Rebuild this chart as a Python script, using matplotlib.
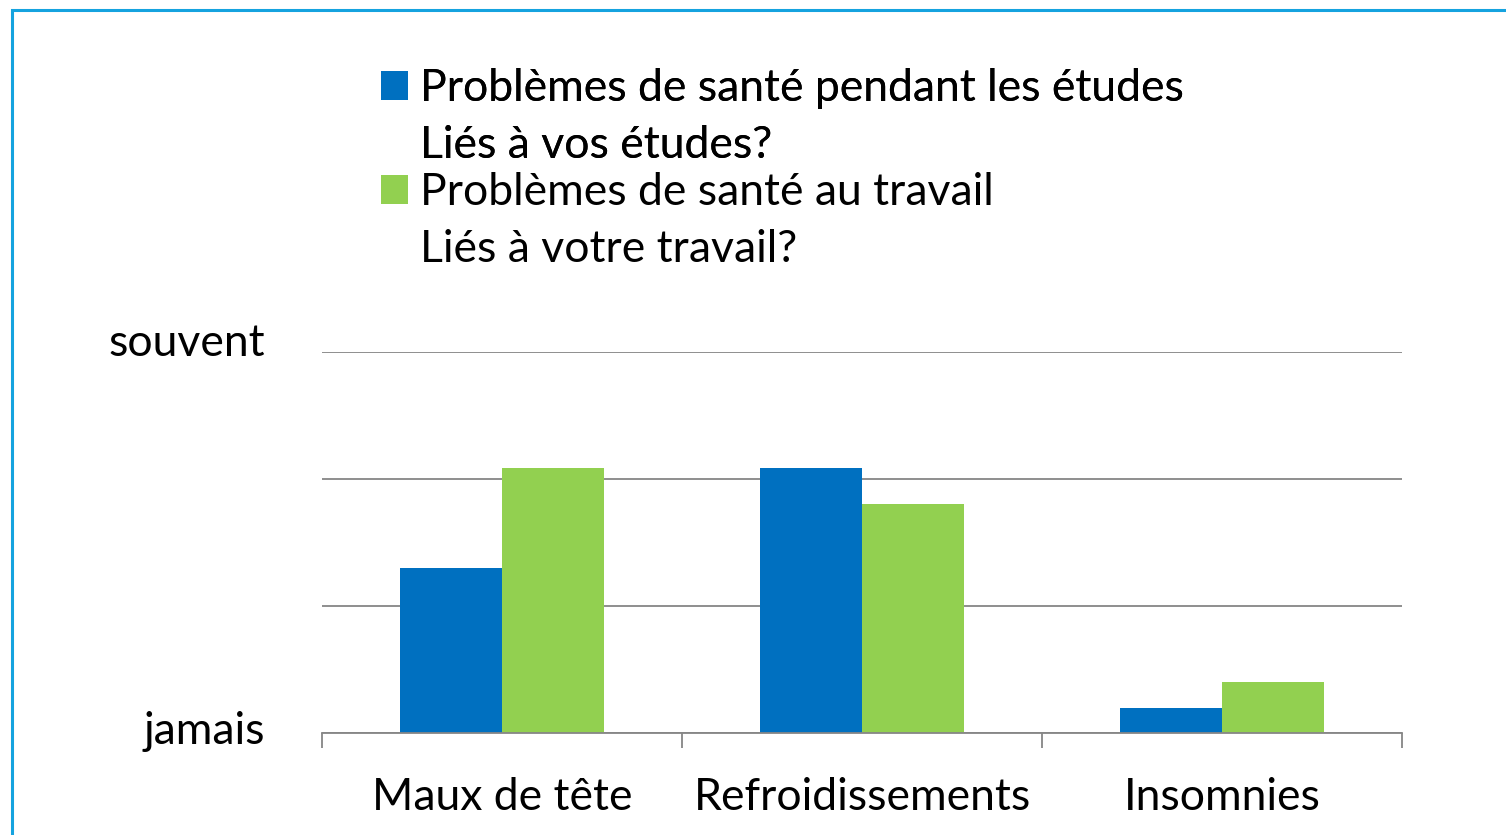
import matplotlib
matplotlib.use("Agg")
import matplotlib.pyplot as plt
import matplotlib.transforms as mtransforms
import numpy as np
from matplotlib.patches import Rectangle, Patch

# Categories and series (scale: 0 = jamais ... 3 = souvent)
categories = ["Maux de tête", "Refroidissements", "Insomnies"]
etudes_values = [1.30, 2.09, 0.20]
travail_values = [2.09, 1.80, 0.40]
etudes_labels = ["Problèmes de santé pendant les études", "Liés à vos études?"]
travail_labels = ["Problèmes de santé au travail", "Liés à votre travail?"]
ytick_values = [0, 1, 2, 3]
ytick_labels = ["jamais", "", "", "souvent"]

BLUE = "#0070C0"
GREEN = "#92D050"
GRID = "#868686"

plt.rcParams['font.family'] = ['Lato', 'DejaVu Sans']
FS = 32
FS_PX = FS * 100 / 72

fig = plt.figure(figsize=(15.06, 8.35), dpi=100)
ax = fig.add_axes([322/1506, 1 - 733/835, 1080/1506, 381/835])

x = np.arange(len(categories))
width = 0.284
bars1 = ax.bar(x - width/2, etudes_values, width, color=BLUE, zorder=3)
bars2 = ax.bar(x + width/2, travail_values, width, color=GREEN, zorder=3)

ax.set_xlim(-0.5, len(categories) - 0.5)
ax.set_ylim(0, 3)
ax.set_yticks(ytick_values)
ax.set_yticklabels(ytick_labels, fontsize=FS)
ax.tick_params(axis='y', length=0, pad=41)
ax.yaxis.grid(True, color=GRID, linewidth=1.3, zorder=0)

# y labels sit a little above their gridline
for lbl, up in zip(ax.get_yticklabels(), [5, 0, 0, 13]):
    shift = mtransforms.ScaledTranslation(0, up/100, fig.dpi_scale_trans)
    lbl.set_transform(lbl.get_transform() + shift)

ax.set_xticks(x)
ax.set_xticklabels(categories, fontsize=FS)
ax.set_xticks(np.arange(len(categories) + 1) - 0.5, minor=True)
ax.tick_params(axis='x', which='major', length=0, pad=32)
ax.tick_params(axis='x', which='minor', length=11, width=1.3, color=GRID, direction='out')

for side in ['top', 'right', 'left']:
    ax.spines[side].set_visible(False)
ax.spines['bottom'].set_color(GRID)
ax.spines['bottom'].set_linewidth(1.3)
ax.spines['bottom'].set_zorder(4)

# Legend: each coloured entry is followed by a text line without marker
blank = Patch(facecolor='none', edgecolor='none')
leg_kw = dict(loc='upper left', frameon=False, fontsize=FS,
              handlelength=27/FS_PX, handleheight=27/FS_PX, handletextpad=12/FS_PX,
              labelspacing=0.37, borderpad=0, borderaxespad=0)
leg1 = fig.legend([bars1, blank], etudes_labels, bbox_to_anchor=(381/1506, 1 - 68/835), **leg_kw)
fig.add_artist(leg1)
fig.legend([bars2, blank], travail_labels, bbox_to_anchor=(381/1506, 1 - 172/835), **leg_kw)

# Light blue frame (right and bottom edges are outside the picture)
fig.patches.append(Rectangle((12/1506, -0.1), 1.2, 1 - 10/835 + 0.1, transform=fig.transFigure,
                             fill=False, edgecolor='#15A3DF', linewidth=2.2))

fig.savefig("out.png", dpi=100)
